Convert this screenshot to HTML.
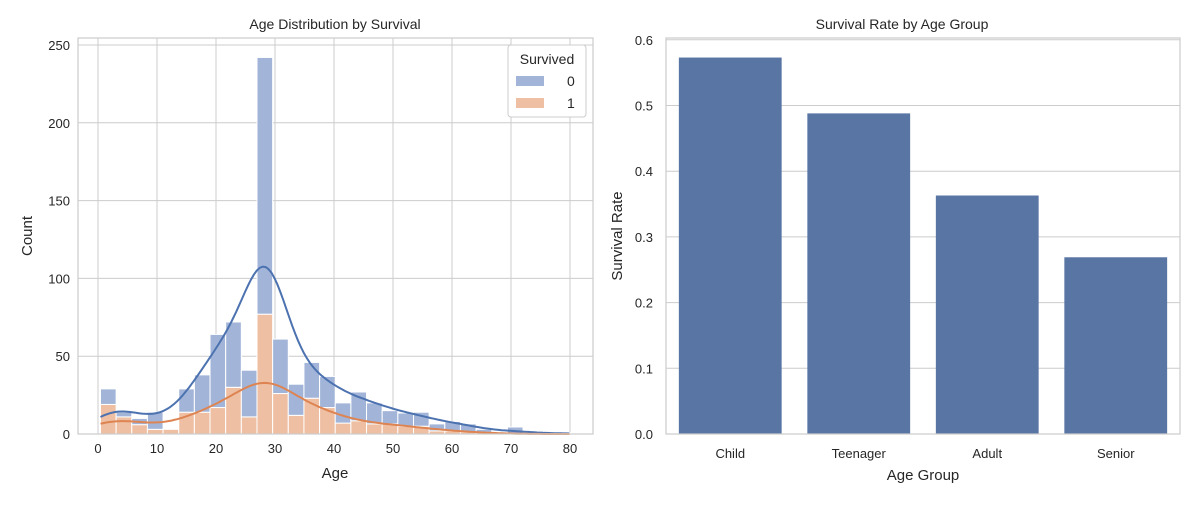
<!DOCTYPE html>
<html><head><meta charset="utf-8">
<style>
body{margin:0;background:#fff;font-family:"Liberation Sans","DejaVu Sans",sans-serif;}
svg text{font-family:"Liberation Sans","DejaVu Sans",sans-serif;fill:#262626;}
</style></head>
<body>
<svg id="chart" width="1200" height="500" xmlns="http://www.w3.org/2000/svg"></svg>
<script>
// Histogram data (30 bins, age 0.42..80)
const binStart = 0.42, binEnd = 80, nBins = 30;
const totalCounts = [29,14,10,14,3,29,38,64,72,41,242,61,32,46,37,20,27,20,15,13.5,14,6.5,8,6.5,3,0,4.5,0,0,1];
const survivedCounts = [19,11,6,3,3,14,14,17,30,11,77,26,12,23,17,7,8.5,6.5,6.5,5,5,2,2,1.5,1,0,0,0,0,0];
const leftXTicks = [0,10,20,30,40,50,60,70,80];
const leftYTicks = [0,50,100,150,200,250];
// Bar chart data
const groups = ["Child","Teenager","Adult","Senior"];
const rates = [0.573,0.488,0.363,0.269];
const rightYTicks = [0,0.1,0.2,0.3,0.4,0.5,0.6];

const svg = document.getElementById('chart');
const NS = "http://www.w3.org/2000/svg";
function mk(tag, attrs, parent){const e=document.createElementNS(NS,tag);for(const k in attrs)e.setAttribute(k,attrs[k]);(parent||svg).appendChild(e);return e;}

// ---- Left chart ----
const L = {x0:78,x1:593,y0:38,y1:434};
const lx = v => 98 + v*5.9;
const ly = v => 434 - v*1.556;
const gl = mk('g',{});


leftXTicks.forEach(t=>{
  const ln=mk('line',{x1:lx(t),x2:lx(t),y1:L.y0,y2:L.y1,stroke:'#cccccc','stroke-width':1},gl);
  
  const tx=mk('text',{x:lx(t),y:453,'text-anchor':'middle','font-size':13},gl);tx.textContent=t;
  
});
leftYTicks.forEach(t=>{
  const ln=mk('line',{x1:L.x0,x2:L.x1,y1:ly(t),y2:ly(t),stroke:'#cccccc','stroke-width':1},gl);
  
  const tx=mk('text',{x:L.x0-8,y:ly(t)+5,'text-anchor':'end','font-size':13},gl);tx.textContent=t;
  
});
const bw = (binEnd-binStart)/nBins;
for(let i=0;i<nBins;i++){
  const a=binStart+i*bw, b=a+bw;
  const s=survivedCounts[i], t=totalCounts[i];
  if(s>0){const r=mk('rect',{x:lx(a),y:ly(s),width:lx(b)-lx(a),height:ly(0)-ly(s),fill:'#eebfa2',stroke:'#fff','stroke-width':1},gl);
    }
  if(t-s>0){const r=mk('rect',{x:lx(a),y:ly(t),width:lx(b)-lx(a),height:ly(s)-ly(t),fill:'#a2b5d8',stroke:'#fff','stroke-width':1},gl);
    }
}
// KDE derived from the histogram arrays
function kde(counts){
  let n=0,m=0;counts.forEach((c,i)=>{n+=c;m+=c*(binStart+(i+.5)*bw);});m/=n;
  let v=0;counts.forEach((c,i)=>{const x=binStart+(i+.5)*bw;v+=c*(x-m)*(x-m);});v/=n;
  const h=Math.sqrt(v)*Math.pow(n,-0.2)*1.1;
  const pts=[];
  for(let x=binStart;x<=binEnd;x+=0.5){
    let d=0;counts.forEach((c,i)=>{const xi=binStart+(i+.5)*bw;d+=c*Math.exp(-0.5*((x-xi)/h)**2);});
    d=d/(h*Math.sqrt(2*Math.PI))*bw;
    pts.push(lx(x).toFixed(1)+','+ly(d).toFixed(1));
  }
  return pts.join(' ');
}
const k0=mk('polyline',{points:kde(totalCounts),fill:'none',stroke:'#4c72b0','stroke-width':2},gl);

const k1=mk('polyline',{points:kde(survivedCounts),fill:'none',stroke:'#dd8452','stroke-width':2},gl);

const fl=mk('rect',{x:L.x0,y:L.y0,width:L.x1-L.x0,height:L.y1-L.y0,fill:'none',stroke:'#cccccc','stroke-width':1.2},gl);

let t1=mk('text',{x:335,y:29,'text-anchor':'middle','font-size':14},gl);t1.textContent='Age Distribution by Survival';

let t2=mk('text',{x:335,y:478,'text-anchor':'middle','font-size':15},gl);t2.textContent='Age';

let t3=mk('text',{x:32,y:236,'text-anchor':'middle','font-size':15,transform:'rotate(-90 32 236)'},gl);t3.textContent='Count';

// legend
const lg=mk('g',{},gl);

mk('rect',{x:508,y:45,width:78,height:72,rx:3,fill:'#fff',stroke:'#cccccc'},lg);
let lt=mk('text',{x:547,y:64,'text-anchor':'middle','font-size':14},lg);lt.textContent='Survived';
[['0','#a2b5d8',85],['1','#eebfa2',107]].forEach(([lab,c,y])=>{
  const e=mk('g',{},lg);
  
  mk('rect',{x:516,y:y-9,width:28,height:10,fill:c},e);
  const tt=mk('text',{x:567,y:y+1,'font-size':14},e);tt.textContent=lab;
});

// ---- Right chart ----
const R = {x0:666,x1:1180,y0:38,y1:434};
const ry = v => 434 - v*657;
const band=(R.x1-R.x0)/groups.length;
const rx = i => R.x0 + band*(i+0.5);
const gr=mk('g',{});

rightYTicks.forEach(t=>{
  const ln=mk('line',{x1:R.x0,x2:R.x1,y1:ry(t),y2:ry(t),stroke:'#cccccc','stroke-width':1},gr);
  
  const tx=mk('text',{x:R.x0-13,y:ry(t)+5,'text-anchor':'end','font-size':13},gr);tx.textContent=t.toFixed(1);
  
});
groups.forEach((g,i)=>{
  const w=band*0.8;
  const r=mk('rect',{x:rx(i)-w/2,y:ry(rates[i]),width:w,height:ry(0)-ry(rates[i]),fill:'#5975a4'},gr);
  
  const tx=mk('text',{x:rx(i),y:458,'text-anchor':'middle','font-size':13},gr);tx.textContent=g;
  
});
const fr=mk('rect',{x:R.x0,y:R.y0,width:R.x1-R.x0,height:R.y1-R.y0,fill:'none',stroke:'#cccccc','stroke-width':1.2},gr);

let r1=mk('text',{x:902,y:29,'text-anchor':'middle','font-size':14},gr);r1.textContent='Survival Rate by Age Group';

let r2=mk('text',{x:923,y:480,'text-anchor':'middle','font-size':15},gr);r2.textContent='Age Group';

let r3=mk('text',{x:622,y:236,'text-anchor':'middle','font-size':15,transform:'rotate(-90 622 236)'},gr);r3.textContent='Survival Rate';

</script>
</body></html>
